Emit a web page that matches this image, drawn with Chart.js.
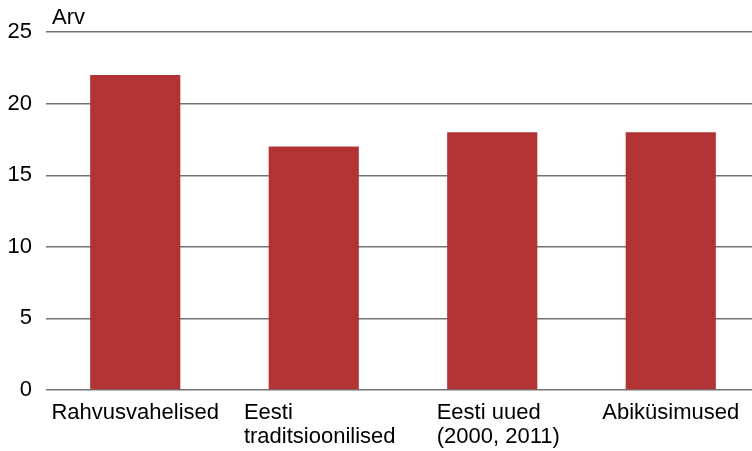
<!DOCTYPE html>
<html>
<head>
<meta charset="utf-8">
<script src="https://cdn.jsdelivr.net/npm/chart.js@4"></script>
<style>
    html, body { margin: 0; padding: 0; background: #fff; overflow: hidden; }
    #wrap { width: 760px; height: 451px; }
</style>
</head>
<body>
<div id="wrap"><canvas id="grafico"></canvas></div>
<script>
const categorias = [
    ['Rahvusvahelised'],
    ['Eesti', 'traditsioonilised'],
    ['Eesti uued', '(2000, 2011)'],
    ['Abiküsimused']
];
const valores = [22, 17, 18, 18];
const ticksY = [0, 5, 10, 15, 20, 25];
const tituloY = 'Arv';

const fonte = '22px "Liberation Sans", Arial, sans-serif';

// rótulos do eixo x (linhas alinhadas à esquerda) e o título "Arv"
const rotulos = {
    id: 'rotulos',
    afterDraw(chart) {
        const ctx = chart.ctx;
        const escalaX = chart.scales.x;
        ctx.save();
        ctx.font = fonte;
        ctx.fillStyle = '#000';
        ctx.textAlign = 'left';
        ctx.textBaseline = 'alphabetic';
        categorias.forEach((linhas, i) => {
            const centro = escalaX.getPixelForValue(i);
            const largura = Math.max(...linhas.map(l => ctx.measureText(l).width));
            // blocos de duas linhas ficam um pouco à direita do centro
            const desvio = linhas.length > 1 ? 6 : 0;
            linhas.forEach((linha, j) => {
                ctx.fillText(linha, centro - largura / 2 + desvio, escalaX.top + 29 + j * 24);
            });
        });
        ctx.fillText(tituloY, chart.chartArea.left + 6, chart.chartArea.top - 8);
        ctx.restore();
    }
};

const grafico = new Chart(document.getElementById('grafico').getContext('2d'), {
    type: 'bar',
    data: {
        labels: categorias.map(c => c.join(' ')),
        datasets: [{
            data: valores,
            backgroundColor: '#b13334',
            borderWidth: 0,
            categoryPercentage: 1,
            barPercentage: 0.505
        }]
    },
    options: {
        responsive: true,
        maintainAspectRatio: false,
        animation: false,
        layout: { padding: { top: 32, right: 0, left: 0, bottom: 0 } },
        plugins: {
            legend: { display: false },
            tooltip: { enabled: false }
        },
        scales: {
            x: {
                grid: { display: false },
                border: { display: false },
                ticks: { display: false },
                afterFit: s => { s.height = 61; }
            },
            y: {
                min: 0,
                max: 25,
                afterBuildTicks: s => { s.ticks = ticksY.map(v => ({ value: v })); },
                afterFit: s => { s.width = 46; },
                border: { display: false },
                grid: { color: '#737373', lineWidth: 1.4, drawTicks: false },
                ticks: {
                    padding: 14,
                    color: '#000',
                    font: { family: '"Liberation Sans", Arial, sans-serif', size: 22 }
                }
            }
        }
    },
    plugins: [rotulos]
});
</script>
</body>
</html>
